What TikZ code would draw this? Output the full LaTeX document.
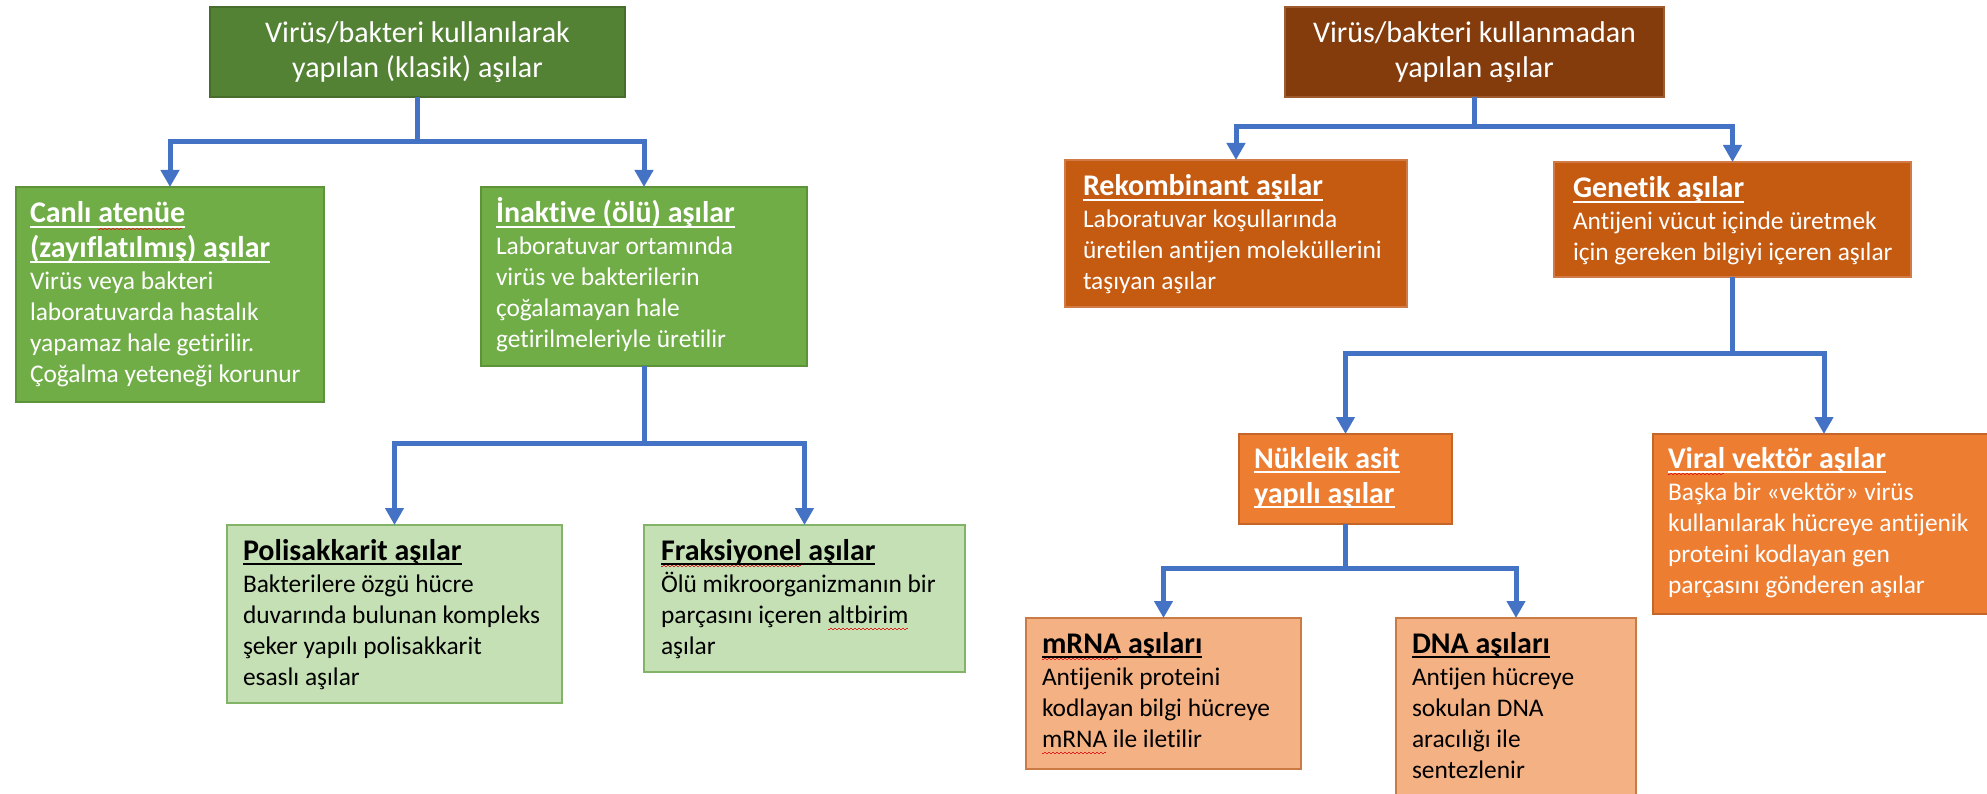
\documentclass[tikz,border=0pt]{standalone}
\usepackage{fontspec}
\setmainfont{Carlito}[Ligatures={NoCommon,NoContextual,NoRare},RawFeature={-liga;-clig;-dlig}]
\usetikzlibrary{arrows.meta}
\definecolor{conncol}{HTML}{4472C4}
\definecolor{gA}{HTML}{548235}\definecolor{gAd}{HTML}{466D2C}
\definecolor{gB}{HTML}{70AD47}\definecolor{gBd}{HTML}{5E9439}
\definecolor{gC}{HTML}{C5E0B4}\definecolor{gCd}{HTML}{82B366}
\definecolor{bA}{HTML}{843C0C}\definecolor{bAd}{HTML}{9C5A2E}
\definecolor{oA}{HTML}{C55A11}\definecolor{oAd}{HTML}{D27A45}
\definecolor{oB}{HTML}{ED7D31}\definecolor{oBd}{HTML}{C4662A}
\definecolor{oC}{HTML}{F4B183}\definecolor{oCd}{HTML}{C97A45}
\definecolor{spellred}{HTML}{E0201A}
\newbox\myulbox
\newbox\mywvbox
\newcommand\myul[1]{\setbox\myulbox\hbox{#1}\rlap{\vrule height -3pt depth 5pt width \wd\myulbox}\box\myulbox}
\newcommand\sw[1]{\setbox\mywvbox\hbox{#1}\rlap{\color{spellred}\hbox to \wd\mywvbox{\leaders\hbox{\vrule height -5.8pt depth 7pt width 2pt\vrule height -4.6pt depth 5.8pt width 2pt}\hfil}}\box\mywvbox}
\newcommand\headfont{\fontsize{30}{35}\selectfont\bfseries}
\newcommand\bodyfont{\fontsize{25.4}{31}\selectfont}
\newcommand\HL[1]{\baselineskip=35pt\hbox{\headfont\myul{#1}}}
\newcommand\BF[1]{\baselineskip=32pt\hbox{\bodyfont #1}}
\newcommand\BL[1]{\baselineskip=31pt\hbox{\bodyfont #1}}
\newcommand\txt[1]{\vtop{\lineskiplimit=-\maxdimen #1}}
\begin{document}
\begin{tikzpicture}[x=1pt,y=-1pt,
  box/.style={rectangle, line width=1.5pt, inner sep=0pt, outer sep=0pt, anchor=north west},
  title/.style={box, text=white, align=center, font=\fontsize{30}{35}\selectfont},
  btext/.style={anchor=base west, inner sep=0pt, outer sep=0pt},
  conn/.style={draw=conncol, line width=5pt, -{Triangle[width=18pt,length=17pt]}}]
\useasboundingbox (0,0) rectangle (1987,794);
\clip (0,0) rectangle (1987,794);
\fill[white] (0,0) rectangle (1987,794);
% left tree
\node[title, fill=gA, draw=gAd, minimum width=415pt, minimum height=90pt] (T1) at (210,7) {Virüs/bakteri kullanılarak\\yapılan (klasik) aşılar};
\node[box, fill=gB, draw=gBd, minimum width=308pt, minimum height=215pt] (A) at (16,187) {};
\node[box, fill=gB, draw=gBd, minimum width=326pt, minimum height=179pt] (B) at (481,187) {};
\node[box, fill=gC, draw=gCd, minimum width=335pt, minimum height=178pt] (C) at (227,525) {};
\node[box, fill=gC, draw=gCd, minimum width=321pt, minimum height=147pt] (D) at (644,525) {};
% right tree
\node[title, fill=bA, draw=bAd, minimum width=379pt, minimum height=90pt] (T2) at (1285,7) {Virüs/bakteri kullanmadan\\yapılan aşılar};
\node[box, fill=oA, draw=oAd, minimum width=342pt, minimum height=147pt] (E) at (1065,160) {};
\node[box, fill=oA, draw=oAd, minimum width=357pt, minimum height=115pt] (F) at (1554,162) {};
\node[box, fill=oB, draw=oBd, minimum width=213pt, minimum height=90pt] (G) at (1239,434) {};
\node[box, fill=oB, draw=oBd, minimum width=342pt, minimum height=180pt] (H) at (1653,434) {};
\node[box, fill=oC, draw=oCd, minimum width=275pt, minimum height=151pt] (I) at (1026,618) {};
\node[box, fill=oC, draw=oCd, minimum width=240pt, minimum height=190pt] (J) at (1396,618) {};
% texts
\node[btext, text=white] (At) at ([shift={(14,36)}]A.north west) {\txt{\HL{Canlı \sw{atenüe}}\HL{(zayıflatılmış) aşılar}\BF{Virüs veya bakteri}\BL{laboratuvarda hastalık}\BL{yapamaz hale getirilir.}\BL{Çoğalma yeteneği korunur}}};
\node[btext, text=white] (Bt) at ([shift={(15,36)}]B.north west) {\txt{\HL{İnaktive (ölü) aşılar}\BF{Laboratuvar ortamında}\BL{virüs ve bakterilerin}\BL{çoğalamayan hale}\BL{getirilmeleriyle üretilir}}};
\node[btext, text=black] (Ct) at ([shift={(16,35)}]C.north west) {\txt{\HL{Polisakkarit aşılar}\BF{Bakterilere özgü hücre}\BL{duvarında bulunan kompleks}\BL{şeker yapılı polisakkarit}\BL{esaslı aşılar}}};
\node[btext, text=black] (Dt) at ([shift={(17,35)}]D.north west) {\txt{\HL{\sw{Fraksiyonel} aşılar}\BF{Ölü mikroorganizmanın bir}\BL{parçasını içeren \sw{altbirim}}\BL{aşılar}}};
\node[btext, text=white] (Et) at ([shift={(18,36)}]E.north west) {\txt{\HL{Rekombinant aşılar}\BF{Laboratuvar koşullarında}\BL{üretilen antijen moleküllerini}\BL{taşıyan aşılar}}};
\node[btext, text=white] (Ft) at ([shift={(19,36)}]F.north west) {\txt{\HL{Genetik aşılar}\BF{Antijeni vücut içinde üretmek}\BL{için gereken bilgiyi içeren aşılar}}};
\node[btext, text=white] (Gt) at ([shift={(15,34)}]G.north west) {\txt{\HL{Nükleik asit}\HL{yapılı aşılar}}};
\node[btext, text=white] (Ht) at ([shift={(15,34)}]H.north west) {\txt{\HL{\sw{Viral} vektör aşılar}\BF{Başka bir «vektör» virüs}\BL{kullanılarak hücreye antijenik}\BL{proteini kodlayan gen}\BL{parçasını gönderen aşılar}}};
\node[btext, text=black] (It) at ([shift={(16,35)}]I.north west) {\txt{\HL{\sw{mRNA} aşıları}\BF{Antijenik proteini}\BL{kodlayan bilgi hücreye}\BL{\sw{mRNA} ile iletilir}}};
\node[btext, text=black] (Jt) at ([shift={(16,35)}]J.north west) {\txt{\HL{DNA aşıları}\BF{Antijen hücreye}\BL{sokulan DNA}\BL{aracılığı ile}\BL{sentezlenir}}};
% connectors
\draw[conn] (T1.south) -- ++(0,45) -| (A.north);
\draw[conn] (T1.south) -- ++(0,45) -| (B.north);
\draw[conn] (B.south) -- ++(0,77) -| (C.north);
\draw[conn] (B.south) -- ++(0,77) -| (D.north);
\draw[conn] (T2.south) -- ++(0,30) -| (E.north);
\draw[conn] (T2.south) -- ++(0,30) -| (F.north);
\draw[conn] (F.south) -- ++(0,77) -| (G.north);
\draw[conn] (F.south) -- ++(0,77) -| (H.north);
\draw[conn] (G.south) -- ++(0,44) -| (I.north);
\draw[conn] (G.south) -- ++(0,44) -| (J.north);
\end{tikzpicture}
\end{document}
